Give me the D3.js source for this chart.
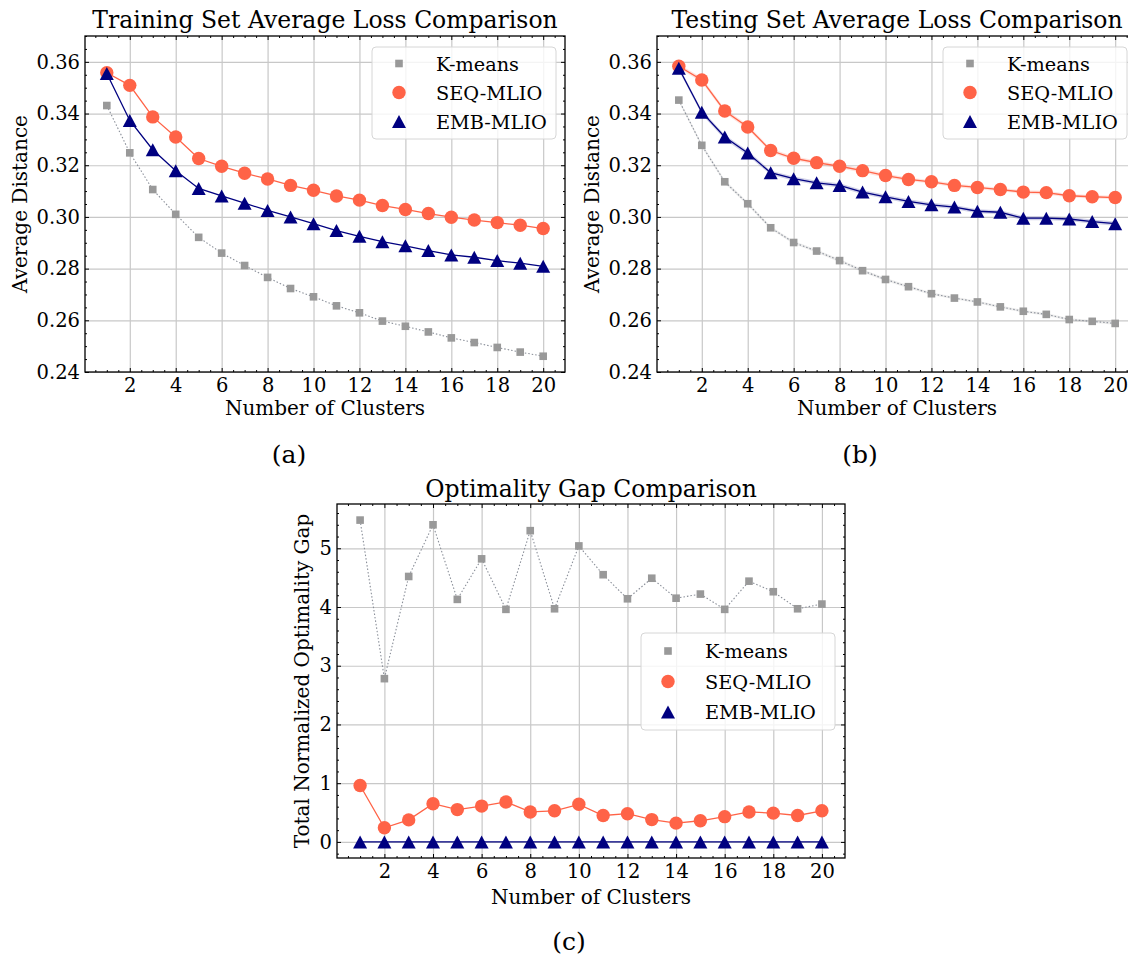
<!DOCTYPE html>
<html><head><meta charset="utf-8">
<script src="https://cdn.jsdelivr.net/npm/d3@7"></script>
<style>
body{margin:0;background:#fff;}
text{font-family:"DejaVu Serif",serif;fill:#000;}
</style></head>
<body><svg id="c" width="1128" height="957"></svg>
<script>
// ---------------- DATA ----------------
const clusters = d3.range(1, 21);
const seriesNames = ["K-means", "SEQ-MLIO", "EMB-MLIO"];

const trainKmeans = [0.3431,0.3248,0.3106,0.3010,0.2921,0.2860,0.2812,0.2766,0.2723,0.2691,0.2656,0.2629,0.2597,0.2577,0.2555,0.2532,0.2514,0.2495,0.2477,0.2461];
const trainSeq    = [0.3558,0.3509,0.3387,0.3309,0.3226,0.3196,0.3169,0.3147,0.3122,0.3103,0.3081,0.3065,0.3044,0.3029,0.3013,0.2999,0.2988,0.2978,0.2968,0.2955];
const trainEmb    = [0.3555,0.3373,0.3260,0.3179,0.3110,0.3081,0.3053,0.3025,0.3000,0.2974,0.2947,0.2925,0.2904,0.2888,0.2870,0.2853,0.2844,0.2831,0.2821,0.2809];

const testKmeans  = [0.3452,0.3277,0.3136,0.3051,0.2958,0.2901,0.2868,0.2831,0.2792,0.2758,0.2730,0.2703,0.2686,0.2671,0.2652,0.2635,0.2623,0.2603,0.2596,0.2588];
const testSeq     = [0.3583,0.3530,0.3410,0.3348,0.3257,0.3227,0.3210,0.3196,0.3179,0.3160,0.3145,0.3136,0.3122,0.3114,0.3106,0.3096,0.3094,0.3082,0.3078,0.3075];
const testEmb     = [0.3575,0.3405,0.3309,0.3247,0.3171,0.3148,0.3132,0.3122,0.3096,0.3078,0.3060,0.3047,0.3038,0.3022,0.3018,0.2995,0.2995,0.2992,0.2982,0.2974];
// half-width of the shaded spread around the testing curves
const testKmeansSpread = [0.0006,0.0007,0.0007,0.0007,0.0006,0.0006,0.0006,0.0006,0.0006,0.0006,0.0006,0.0005,0.0005,0.0005,0.0005,0.0005,0.0005,0.0005,0.0005,0.0005];
const testSeqSpread    = [0.0008,0.0009,0.0009,0.0009,0.0008,0.0008,0.0008,0.0008,0.0008,0.0008,0.0007,0.0007,0.0007,0.0007,0.0007,0.0007,0.0007,0.0007,0.0007,0.0007];
const testEmbSpread    = [0.0008,0.0009,0.0009,0.0009,0.0008,0.0008,0.0008,0.0008,0.0008,0.0008,0.0008,0.0008,0.0008,0.0008,0.0008,0.0008,0.0008,0.0008,0.0008,0.0008];

const gapKmeans = [5.48,2.78,4.52,5.40,4.13,4.82,3.96,5.30,3.97,5.04,4.55,4.14,4.49,4.15,4.22,3.96,4.44,4.26,3.97,4.05];
const gapSeq    = [0.96,0.24,0.375,0.65,0.55,0.61,0.68,0.51,0.53,0.64,0.45,0.48,0.38,0.32,0.36,0.43,0.51,0.49,0.45,0.53];
const gapEmb    = [0,0,0,0,0,0,0,0,0,0,0,0,0,0,0,0,0,0,0,0];

const xTicks = [2,4,6,8,10,12,14,16,18,20];
const lossTicks = [0.24,0.26,0.28,0.30,0.32,0.34,0.36];
const gapTicks = [0,1,2,3,4,5];

const titles = ["Training Set Average Loss Comparison","Testing Set Average Loss Comparison","Optimality Gap Comparison"];
const xLabel = "Number of Clusters";
const yLabels = ["Average Distance","Average Distance","Total Normalized Optimality Gap"];
const captions = ["(a)","(b)","(c)"];

// ---------------- STYLE ----------------
const C_K = "#999999", C_KL = "#8a8f99", C_S = "#ff6347", C_E = "#000080";
const svg = d3.select("#c");

function triPath(w,h){return `M0,${-h/2}L${w/2},${h/2}L${-w/2},${h/2}Z`;}
function drawMarker(g, type, x, y){
  if(type===0) g.append("rect").attr("x",x-3.8).attr("y",y-3.8).attr("width",7.6).attr("height",7.6).attr("fill",C_K);
  else if(type===1) g.append("circle").attr("cx",x).attr("cy",y).attr("r",6.7).attr("fill",C_S);
  else g.append("path").attr("d",triPath(14,13)).attr("transform",`translate(${x},${y})`).attr("fill",C_E);
}

function panel(o){
  const W=o.right-o.left, H=o.bottom-o.top;
  const g=svg.append("g").attr("transform",`translate(${o.left},${o.top})`);
  const x=d3.scaleLinear().domain([0.05,20.95]).range([0,W]);
  const y=d3.scaleLinear().domain(o.yDomain).range([H,0]);

  // grid
  const gx=g.append("g").attr("transform",`translate(0,${H})`).call(d3.axisBottom(x).tickValues(xTicks).tickSize(-H).tickFormat(""));
  const gy=g.append("g").call(d3.axisLeft(y).tickValues(o.yTicks).tickSize(-W).tickFormat(""));
  [gx,gy].forEach(a=>{a.select(".domain").remove();a.selectAll("line").attr("stroke","#c8c8c8").attr("stroke-width",1.2);});

  // bands
  if(o.bands){
    o.series.forEach((s,i)=>{
      const area=d3.area().x((d,j)=>x(clusters[j])).y0((d,j)=>y(s[j]-o.bands[i][j])).y1((d,j)=>y(s[j]+o.bands[i][j]));
      g.append("path").datum(s).attr("d",area).attr("fill",[C_K,C_S,C_E][i]).attr("opacity",0.18);
    });
  }
  // lines
  const line=d3.line().x((d,j)=>x(clusters[j])).y(d=>y(d));
  g.append("path").datum(o.series[0]).attr("d",line).attr("fill","none").attr("stroke",C_KL).attr("stroke-width",1.1).attr("stroke-dasharray","1.5,2");
  g.append("path").datum(o.series[1]).attr("d",line).attr("fill","none").attr("stroke",C_S).attr("stroke-width",1.3);
  g.append("path").datum(o.series[2]).attr("d",line).attr("fill","none").attr("stroke",C_E).attr("stroke-width",1.3);
  // markers
  o.series.forEach((s,i)=>s.forEach((v,j)=>drawMarker(g,i,x(clusters[j]),y(v))));

  // axes with inward ticks on all sides
  const xMinor=d3.range(0.5,21,0.5).filter(v=>v%2!==0);
  const yMinor=o.yMinor.filter(v=>!o.yTicks.some(t=>Math.abs(t-v)<1e-9));
  const mk=(axis,tr)=>{const a=g.append("g").attr("class","ax");if(tr)a.attr("transform",tr);a.call(axis);return a;};
  mk(d3.axisBottom(x).tickValues(xTicks).tickSizeInner(-4).tickSizeOuter(0).tickPadding(6).tickFormat(d3.format("d")),`translate(0,${H})`);
  mk(d3.axisBottom(x).tickValues(xMinor).tickSizeInner(-2).tickSizeOuter(0).tickFormat(""),`translate(0,${H})`);
  mk(d3.axisTop(x).tickValues(xTicks).tickSizeInner(-4).tickSizeOuter(0).tickFormat(""));
  mk(d3.axisTop(x).tickValues(xMinor).tickSizeInner(-2).tickSizeOuter(0).tickFormat(""));
  mk(d3.axisLeft(y).tickValues(o.yTicks).tickSizeInner(-4).tickSizeOuter(0).tickPadding(5).tickFormat(o.yFmt));
  mk(d3.axisLeft(y).tickValues(yMinor).tickSizeInner(-2).tickSizeOuter(0).tickFormat(""));
  mk(d3.axisRight(y).tickValues(o.yTicks).tickSizeInner(-4).tickSizeOuter(0).tickFormat(""),`translate(${W},0)`);
  mk(d3.axisRight(y).tickValues(yMinor).tickSizeInner(-2).tickSizeOuter(0).tickFormat(""),`translate(${W},0)`);
  g.selectAll(".ax .domain").remove();
  g.selectAll(".ax .tick line").attr("stroke","#000").attr("stroke-width",1);
  g.selectAll(".ax .tick text").attr("font-family","DejaVu Serif").attr("font-size",19.5).attr("fill","#000");
  // frame
  g.append("rect").attr("width",W).attr("height",H).attr("fill","none").attr("stroke","#000").attr("stroke-width",1.3);

  // legend
  const L=o.legend;
  const lg=svg.append("g");
  lg.append("rect").attr("x",L.x).attr("y",L.y).attr("width",L.w).attr("height",L.h).attr("rx",4)
    .attr("fill","#fff").attr("fill-opacity",0.8).attr("stroke","#d6d6d6").attr("stroke-width",1);
  seriesNames.forEach((n,i)=>{
    const cy=L.y+L.r0+i*L.dr;
    drawMarker(lg,i,L.x+27,cy);
    lg.append("text").attr("x",L.x+64).attr("y",cy+7).attr("font-size",19.3).text(n);
  });

  // texts
  svg.append("text").attr("x",o.left+W/2).attr("y",o.titleY).attr("text-anchor","middle").attr("font-size",23.5).text(o.title);
  svg.append("text").attr("x",o.left+W/2).attr("y",o.xLabelY).attr("text-anchor","middle").attr("font-size",20).text(xLabel);
  svg.append("text").attr("transform",`translate(${o.yLabelX},${o.top+H/2}) rotate(-90)`).attr("text-anchor","middle").attr("font-size",20).text(o.yLabel);
  svg.append("text").attr("x",o.capX).attr("y",o.capY).attr("text-anchor","middle").attr("font-size",25).text(o.caption);
}

const lossMinor=d3.range(0,27).map(i=>+(0.24+i*0.005).toFixed(3));
const gapMinor=d3.range(-1,29).map(i=>+(i*0.2).toFixed(2));

panel({left:85,right:565,top:36,bottom:372,yDomain:[0.24,0.37],yTicks:lossTicks,yMinor:lossMinor,yFmt:d3.format(".2f"),
  series:[trainKmeans,trainSeq,trainEmb],title:titles[0],yLabel:yLabels[0],caption:captions[0],
  titleY:28,xLabelY:415,yLabelX:27,capX:289,capY:463,
  legend:{x:372,y:47,w:184,h:92,r0:16.5,dr:29}});
panel({left:657,right:1137,top:36,bottom:372,yDomain:[0.24,0.37],yTicks:lossTicks,yMinor:lossMinor,yFmt:d3.format(".2f"),
  series:[testKmeans,testSeq,testEmb],bands:[testKmeansSpread,testSeqSpread,testEmbSpread],title:titles[1],yLabel:yLabels[1],caption:captions[1],
  titleY:28,xLabelY:415,yLabelX:599,capX:860,capY:463,
  legend:{x:943,y:47,w:184,h:92,r0:16.5,dr:29}});
panel({left:337,right:845,top:504,bottom:858,yDomain:[-0.274,5.754],yTicks:gapTicks,yMinor:gapMinor,yFmt:d3.format("d"),
  series:[gapKmeans,gapSeq,gapEmb],title:titles[2],yLabel:yLabels[2],caption:captions[2],
  titleY:497,xLabelY:904,yLabelX:309,capX:569,capY:950,
  legend:{x:641,y:633,w:194,h:97,r0:18,dr:30.5}});
</script></body></html>
